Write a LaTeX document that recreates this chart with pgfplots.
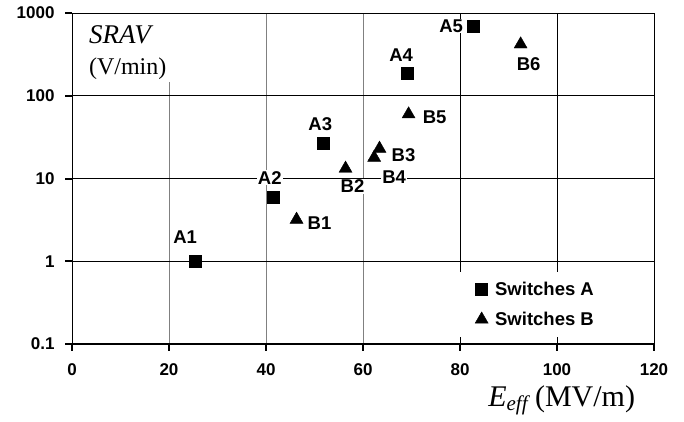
\documentclass[border=0pt]{standalone}
\usepackage{pgfplots}
\pgfplotsset{compat=1.18}
\usepackage{pgfplotstable}
\usepackage{fontspec}
\setmainfont{Liberation Sans}
\newfontfamily\tnr{Liberation Serif}

\pgfplotstableread{
x y lab dx dy
25.4 1.0 A1 -10 24
41.4 6.0 A2 -3 19
51.8 26.4 A3 -3 19
69.1 188 A4 -6 18
82.7 697 A5 -22 0
}\dataA
\pgfplotstableread{
x y lab dx dy
46.3 3.19 B1 23 -4
56.4 13.2 B2 7 -18
63.4 23.0 B3 24 -7
62.3 17.9 B4 20 -20
69.4 59.8 B5 26 -3
92.5 419 B6 8 -20
}\dataB

\begin{document}
\begin{tikzpicture}
\path[use as bounding box] (-72pt,-77pt) rectangle (612pt,344pt);
\begin{axis}[
  at={(0pt,0pt)}, anchor=south west,
  scale only axis, width=582pt, height=331pt,
  xmin=0, xmax=120, ymode=log, ymin=0.1, ymax=1000,
  xtick={0,20,40,60}, extra x ticks={80,100,120},
  extra x tick style={x grid style={black, line width=0.6pt}},
  ytick={0.1,1,10,100,1000},
  yticklabels={0.1,1,10,100,1000},
  log basis y=10,
  xmajorgrids, ymajorgrids,
  x grid style={gray, line width=0.8pt},
  y grid style={black, line width=0.6pt},
  axis line style={black, line width=0.8pt},
  tick align=outside, xtick pos=left, ytick pos=left,
  major tick length=7pt,
  tick style={black, line width=2pt},
  /pgf/number format/assume math mode=true,
  tick label style={font=\fontsize{17}{20}\selectfont\bfseries},
  xticklabel style={yshift=-9pt},
  yticklabel style={xshift=-7pt},
  xlabel={\textit{E}\raisebox{-0.3ex}{\fontsize{21}{21}\selectfont\textit{eff}}\,(MV/m)},
  xlabel style={at={(rel axis cs:0.715,0)}, anchor=base west, inner sep=0pt, yshift=-62pt,
    font=\tnr\fontsize{30}{30}\selectfont},
  legend style={at={(rel axis cs:0.658,0.021)}, anchor=south west, draw=none, fill=white,
    font=\fontsize{18.5}{21}\selectfont\bfseries, row sep=11pt, inner xsep=20pt, inner ysep=8pt},
  legend cell align=left,
  nodes near coords style={font=\fontsize{18.5}{21}\selectfont\bfseries, fill=white, inner sep=1pt,
    anchor=center, xshift=\dx, yshift=\dy},
]
\addplot[only marks, mark=square*, mark size=6pt, black,
  point meta=explicit symbolic, nodes near coords,
  visualization depends on={\thisrow{dx} \as \dx},
  visualization depends on={\thisrow{dy} \as \dy}]
  table[x=x, y=y, meta=lab] {\dataA};
\addlegendentry{\hspace*{5pt}Switches A}
\addplot[only marks, mark=triangle*, mark size=7.5pt, black,
  point meta=explicit symbolic, nodes near coords,
  visualization depends on={\thisrow{dx} \as \dx},
  visualization depends on={\thisrow{dy} \as \dy}]
  table[x=x, y=y, meta=lab] {\dataB};
\addlegendentry{\hspace*{5pt}Switches B}
\fill[white] (rel axis cs:0.010,0.792) rectangle (rel axis cs:0.172,0.997);
\node[anchor=base west, inner sep=0pt, font=\tnr\itshape\fontsize{27}{27}\selectfont] at (rel axis cs:0.029,0.909) {SRAV};
\node[anchor=base west, inner sep=0pt, font=\tnr\fontsize{24}{24}\selectfont] at (rel axis cs:0.029,0.813) {(V/min)};
\draw[line width=2.2pt, black] (rel axis cs:0,1) -- (rel axis cs:0,0) -- (rel axis cs:1,0);
\end{axis}
\end{tikzpicture}
\end{document}
